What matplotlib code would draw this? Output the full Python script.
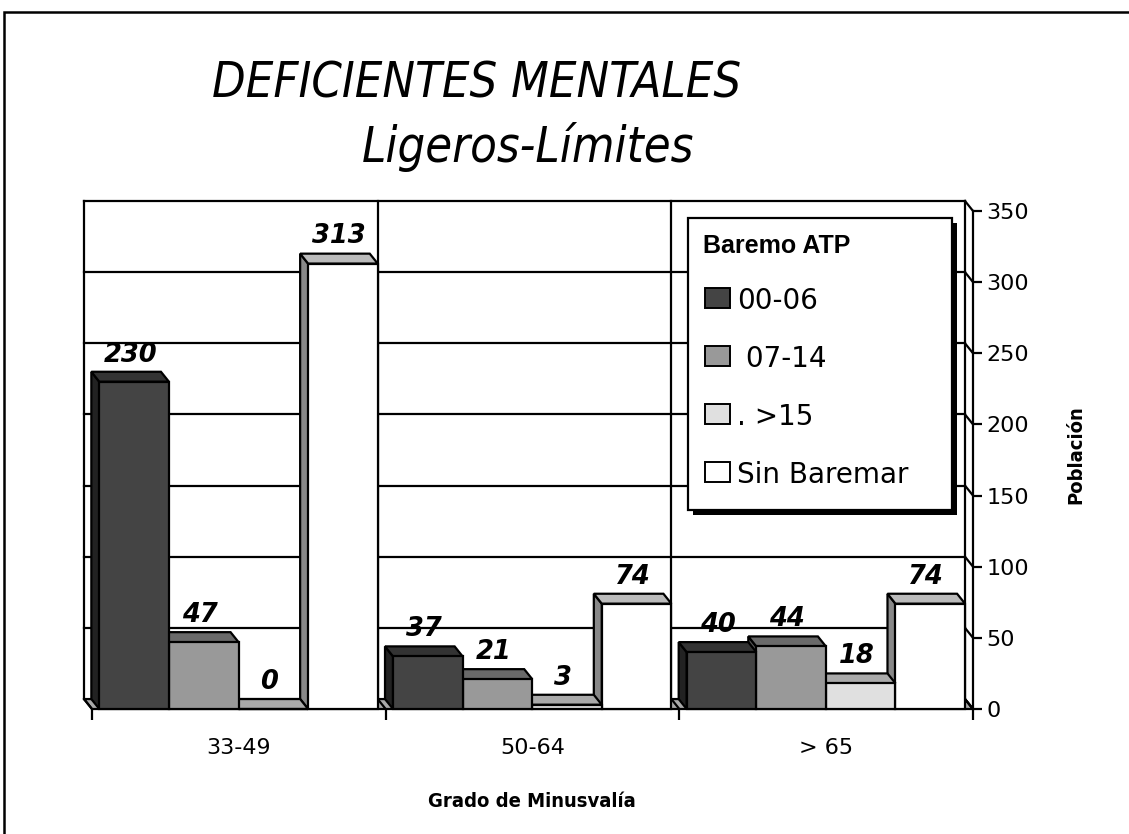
import matplotlib
matplotlib.use("Agg")
import matplotlib.pyplot as plt
from matplotlib.patches import Polygon, Rectangle

# ---- data -------------------------------------------------------------
categories = ["33-49", "50-64", "> 65"]
series_names = ["00-06", " 07-14", ". >15", "Sin Baremar"]
values_0006 = [230, 37, 40]
values_0714 = [47, 21, 44]
values_15 = [0, 3, 18]
values_sin = [313, 74, 74]
y_ticks = [0, 50, 100, 150, 200, 250, 300, 350]

title = "DEFICIENTES MENTALES"
subtitle = "Ligeros-Límites"
x_title = "Grado de Minusvalía"
y_title = "Población"
legend_title = "Baremo ATP"

series_values = [values_0006, values_0714, values_15, values_sin]

# ---- style ------------------------------------------------------------
front_colors = ["#444444", "#999999", "#e0e0e0", "#ffffff"]
top_colors = ["#333333", "#6a6a6a", "#aaaaaa", "#bbbbbb"]
side_colors = ["#222222", "#555555", "#888888", "#888888"]
condensed = ["DejaVu Sans"]
LW = 1.6

W, H = 1129, 834
fig = plt.figure(figsize=(W / 100, H / 100), dpi=100)


def fx(px):
    return px / W


def fy(py):
    return 1 - py / H


# outer frame of the chart object
fig.add_artist(Rectangle((fx(4), -0.1), 1.2, fy(12) + 0.1, transform=fig.transFigure,
                         fill=False, edgecolor="black", lw=1.8, clip_on=False))

# axes = front plane of the 3-D box; back wall is shifted by (-DX, +DY)
ax = fig.add_axes([fx(84), fy(709), (973 - 84) / W, (709 - 201) / H])
DX = 0.0272
DY = 7.0
ymax = y_ticks[-1]
n_cat = len(categories)
ax.set_xlim(-DX, n_cat)
ax.set_ylim(0, ymax + DY)
ax.set_facecolor("none")

line_kw = dict(color="black", lw=LW, solid_capstyle="projecting", clip_on=False)

# floor
ax.add_patch(Polygon([(-DX, DY), (n_cat - DX, DY), (n_cat, 0), (0, 0)], closed=True,
                     facecolor="#aaaaaa", edgecolor="black", lw=LW, zorder=1, clip_on=False))
# back wall gridlines and category separators
for v in y_ticks[1:]:
    ax.plot([-DX, n_cat - DX], [v + DY, v + DY], zorder=1.2, **line_kw)
for i in range(n_cat + 1):
    ax.plot([i - DX, i - DX], [DY, ymax + DY], zorder=1.2, **line_kw)
    ax.plot([i - DX, i], [DY, 0], zorder=1.2, **line_kw)
# links from the back wall to the value axis
for v in y_ticks:
    ax.plot([n_cat - DX, n_cat], [v + DY, v], zorder=1.2, **line_kw)

# bars: front faces via ax.bar, depth faces as polygons
G = 0.025
BW = 0.237
for s, vals in enumerate(series_values):
    z = 10 - 2 * s
    x0s = [c + G + s * BW for c in range(n_cat)]
    ax.bar(x0s, vals, width=BW, align="edge", color=front_colors[s],
           edgecolor="black", lw=LW, zorder=z + 0.5, clip_on=False)
    for x0, h in zip(x0s, vals):
        x1 = x0 + BW
        ax.add_patch(Polygon([(x0, 0), (x0, h), (x0 - DX, h + DY), (x0 - DX, DY)], closed=True,
                             facecolor=side_colors[s], edgecolor="black", lw=LW,
                             joinstyle="miter", zorder=z, clip_on=False))
        ax.add_patch(Polygon([(x0, h), (x1, h), (x1 - DX, h + DY), (x0 - DX, h + DY)], closed=True,
                             facecolor=top_colors[s], edgecolor="black", lw=LW,
                             joinstyle="miter", zorder=z, clip_on=False))
        ax.annotate(f"{h}", xy=(x0 + BW / 2 - DX / 2, h + DY), xytext=(0, 3),
                    textcoords="offset points", ha="center", va="bottom",
                    fontsize=18.5, fontweight="bold", fontstyle="italic",
                    family="DejaVu Sans", zorder=30)

# axes decoration
for side in ["left", "top", "bottom"]:
    ax.spines[side].set_visible(False)
ax.spines["right"].set_bounds(0, ymax)
ax.spines["right"].set_linewidth(LW)
ax.spines["right"].set_zorder(1.3)

ax.yaxis.tick_right()
ax.set_yticks(y_ticks)
ax.set_yticklabels([str(v) for v in y_ticks])
ax.tick_params(axis="y", direction="out", length=6.5, width=LW, pad=3, labelsize=16)

ax.set_xticks(range(n_cat + 1))
ax.set_xticklabels([""] * (n_cat + 1))
ax.set_xticks([c + 0.5 for c in range(n_cat)], minor=True)
ax.set_xticklabels(categories, minor=True)
ax.tick_params(axis="x", which="major", direction="out", length=8, width=LW)
ax.tick_params(axis="x", which="minor", length=0, pad=21, labelsize=16)

ax.set_xlabel(x_title, family=condensed, fontstretch="condensed", fontweight="bold", fontsize=14.5)
ax.xaxis.set_label_coords((532 - 84) / 889, (709 - 792) / 508)
ax.yaxis.set_label_position("right")
ax.set_ylabel(y_title, family=condensed, fontstretch="condensed", fontweight="bold", fontsize=14.5)
ax.yaxis.set_label_coords((1066 - 84) / 889, (709 - 455) / 508)

# titles
fig.text(fx(477), fy(97), title, ha="center", va="baseline", family=condensed,
         fontstretch="condensed", fontstyle="italic", fontsize=35)
fig.text(fx(528), fy(162), subtitle, ha="center", va="baseline", family=condensed,
         fontstretch="condensed", fontstyle="italic", fontsize=35)

# legend box with solid drop shadow
lx0, ly0, lx1, ly1 = 688, 218, 952, 510
fig.add_artist(Rectangle((fx(lx0 + 5), fy(ly1 + 5)), (lx1 - lx0) / W, (ly1 - ly0) / H,
                         transform=fig.transFigure, facecolor="black", edgecolor="black",
                         lw=0, zorder=40))
fig.add_artist(Rectangle((fx(lx0), fy(ly1)), (lx1 - lx0) / W, (ly1 - ly0) / H,
                         transform=fig.transFigure, facecolor="white", edgecolor="black",
                         lw=1.6, zorder=41))
fig.text(fx(703), fy(253), legend_title, ha="left", va="baseline", family="Liberation Sans",
         fontweight="bold", fontsize=18, zorder=42)
for i, name in enumerate(series_names):
    cy = 298 + 58 * i
    fig.add_artist(Rectangle((fx(705), fy(cy + 10)), 25 / W, 20 / H, transform=fig.transFigure,
                             facecolor=front_colors[i], edgecolor="black", lw=1.4, zorder=42))
    fig.text(fx(737), fy(cy), name, ha="left", va="center_baseline", family="DejaVu Sans",
             fontsize=20, zorder=42)

fig.savefig("out.png", dpi=100)
